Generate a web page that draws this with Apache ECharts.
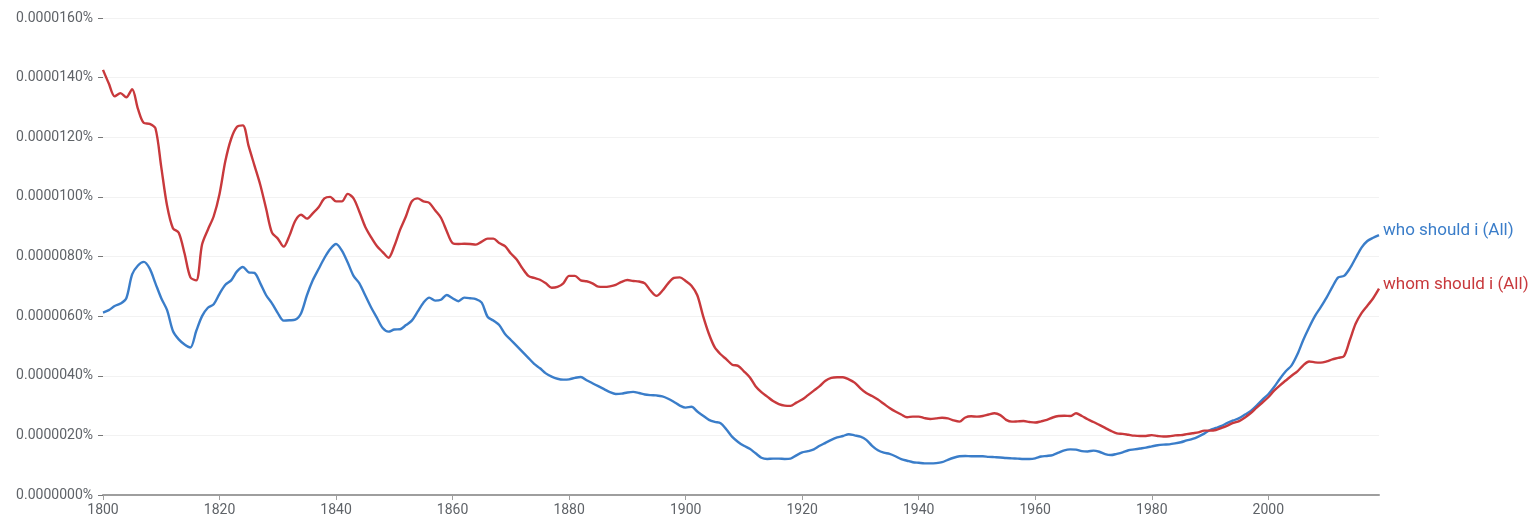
<!DOCTYPE html>
<html>
<head>
<meta charset="utf-8">
<script src="https://cdn.jsdelivr.net/npm/echarts@6/dist/echarts.min.js"></script>
<style>
  html, body { margin: 0; padding: 0; background: #fff; }
  #chart { width: 1536px; height: 521px; }
</style>
</head>
<body>
<div id="chart"></div>
<script>
// years 1800..2019
const startYear = 1800;
const endYear = 2019;
const years = [];
for (let y = startYear; y <= endYear; y++) years.push(String(y));

// values in units of 0.000001 %
const whoShouldI = [
  6.12, 6.2, 6.34, 6.42, 6.6, 7.4, 7.7, 7.82, 7.6, 7.1,
  6.6, 6.2, 5.5, 5.22, 5.05, 4.95, 5.5, 6.0, 6.28, 6.4,
  6.75, 7.05, 7.2, 7.5, 7.65, 7.47, 7.45, 7.1, 6.7, 6.43,
  6.1, 5.85, 5.86, 5.88, 6.1, 6.7, 7.2, 7.58, 7.95, 8.25,
  8.42, 8.2, 7.8, 7.35, 7.1, 6.7, 6.3, 5.95, 5.6, 5.48,
  5.55, 5.56, 5.7, 5.85, 6.15, 6.45, 6.62, 6.52, 6.55, 6.71,
  6.6, 6.5, 6.62, 6.6, 6.57, 6.45, 5.98, 5.85, 5.7, 5.4,
  5.2, 5.0, 4.8, 4.6, 4.4, 4.25, 4.08, 3.97, 3.9, 3.87,
  3.88, 3.93, 3.96, 3.85, 3.75, 3.65, 3.55, 3.45, 3.39, 3.4,
  3.44, 3.46, 3.42, 3.37, 3.35, 3.34, 3.31, 3.23, 3.12, 3.0,
  2.93, 2.96, 2.8, 2.66, 2.52, 2.45, 2.41, 2.2, 1.95, 1.78,
  1.65, 1.55, 1.4, 1.25, 1.21, 1.22, 1.22, 1.21, 1.22, 1.33,
  1.43, 1.47, 1.53, 1.65, 1.75, 1.85, 1.93, 1.98, 2.04, 2.0,
  1.96, 1.85, 1.65, 1.5, 1.42, 1.38, 1.3, 1.2, 1.15, 1.1,
  1.08, 1.06, 1.06, 1.07, 1.1, 1.18, 1.25, 1.3, 1.31, 1.3,
  1.3, 1.3, 1.28, 1.27, 1.26, 1.24, 1.23, 1.22, 1.21, 1.21,
  1.23, 1.29, 1.31, 1.34, 1.42, 1.5, 1.53, 1.52, 1.47, 1.46,
  1.49, 1.45, 1.37, 1.34, 1.38, 1.43, 1.5, 1.53, 1.56, 1.59,
  1.63, 1.67, 1.69, 1.7, 1.73, 1.77, 1.83, 1.88, 1.96, 2.06,
  2.18, 2.25, 2.32, 2.42, 2.5, 2.58, 2.7, 2.82, 3.0, 3.2,
  3.38, 3.62, 3.9, 4.15, 4.35, 4.72, 5.2, 5.62, 6.0, 6.3,
  6.62, 6.98, 7.3, 7.35, 7.6, 7.95, 8.3, 8.52, 8.63, 8.72
];

const whomShouldI = [
  14.26, 13.8, 13.37, 13.48, 13.34, 13.61, 12.95, 12.48, 12.45, 12.3,
  11.0, 9.7, 8.95, 8.8, 8.1, 7.3, 7.2, 8.4, 8.9, 9.35,
  10.1, 11.2, 11.95, 12.35, 12.4, 11.7, 11.05, 10.4, 9.6, 8.8,
  8.6, 8.33, 8.7, 9.2, 9.4, 9.27, 9.45, 9.65, 9.95, 10.0,
  9.85, 9.85, 10.1, 9.95, 9.5, 9.0, 8.65, 8.35, 8.15, 7.96,
  8.35, 8.9, 9.35, 9.85, 9.95, 9.85, 9.8, 9.55, 9.3, 8.85,
  8.45, 8.42, 8.43, 8.42, 8.4, 8.5, 8.6, 8.6, 8.45, 8.35,
  8.1, 7.9, 7.6, 7.35, 7.28, 7.22, 7.1, 6.95, 6.98, 7.1,
  7.35, 7.35, 7.2, 7.17, 7.1, 6.99, 6.98, 7.0, 7.05, 7.15,
  7.21, 7.18, 7.16, 7.1, 6.85, 6.68, 6.85, 7.1, 7.28, 7.3,
  7.18, 7.02, 6.7, 6.0, 5.4, 4.95, 4.72, 4.55, 4.37, 4.33,
  4.15, 3.95, 3.65, 3.45, 3.3, 3.15, 3.05, 3.0, 2.99, 3.1,
  3.2, 3.35, 3.5, 3.65, 3.83, 3.93, 3.95, 3.95, 3.88, 3.77,
  3.58, 3.42, 3.32, 3.2, 3.06, 2.92, 2.8, 2.7, 2.61, 2.63,
  2.63, 2.58, 2.55, 2.57, 2.59, 2.57, 2.5, 2.46, 2.6, 2.64,
  2.63, 2.65, 2.7, 2.74, 2.68, 2.52, 2.46, 2.47, 2.48, 2.45,
  2.43, 2.47, 2.52, 2.6, 2.65, 2.66, 2.65, 2.74, 2.65, 2.54,
  2.45, 2.35, 2.25, 2.15, 2.07, 2.05, 2.02, 1.99, 1.98, 1.98,
  2.01, 1.98, 1.96, 1.97, 2.0, 2.01, 2.04, 2.07, 2.1, 2.16,
  2.16, 2.18, 2.25, 2.33, 2.42, 2.48, 2.6, 2.75, 2.93, 3.1,
  3.28, 3.5, 3.68, 3.84, 4.0, 4.15, 4.35, 4.48, 4.45, 4.44,
  4.48, 4.55, 4.6, 4.66, 5.2, 5.75, 6.1, 6.35, 6.6, 6.92
];

const blue = "#3a7dc9";
const red = "#c8393c";

let myChart = echarts.init(document.getElementById("chart"));

function lineSeries(name, data, color) {
  return {
    name: name,
    type: "line",
    data: data,
    smooth: 0.3,
    showSymbol: false,
    lineStyle: { color: color, width: 2.4 },
    itemStyle: { color: color },
    endLabel: {
      show: true,
      formatter: "{a}",
      color: color,
      fontSize: 17,
      fontFamily: "Roboto",
      distance: 4,
      offset: [0, -4],
    },
  };
}

let option = {
  animation: false,
  grid: {
    left: 103,
    right: 157,
    top: 18,
    bottom: 26,
  },
  xAxis: {
    type: "category",
    data: years,
    boundaryGap: false,
    axisLine: { lineStyle: { color: "#9e9e9e", width: 2 } },
    axisTick: {
      alignWithLabel: true,
      interval: (i, v) => Number(v) % 20 === 0,
      length: 5,
      lineStyle: { color: "#9e9e9e" },
    },
    axisLabel: {
      interval: (i, v) => Number(v) % 20 === 0,
      color: "#5f6368",
      fontSize: 14,
      fontFamily: "Roboto",
      margin: 8,
    },
    splitLine: { show: false },
  },
  yAxis: {
    type: "value",
    min: 0,
    max: 16,
    interval: 2,
    axisLine: { show: false },
    axisTick: { show: true, length: 5, lineStyle: { color: "#777" } },
    axisLabel: {
      color: "#5f6368",
      fontSize: 14,
      fontFamily: "Roboto",
      margin: 10,
      formatter: (v) => (v * 1e-6).toFixed(7) + "%",
    },
    splitLine: { lineStyle: { color: "#f2f2f2" } },
  },
  series: [
    lineSeries("who should i (All)", whoShouldI, blue),
    lineSeries("whom should i (All)", whomShouldI, red),
  ],
};
myChart.setOption(option);
</script>
</body>
</html>
